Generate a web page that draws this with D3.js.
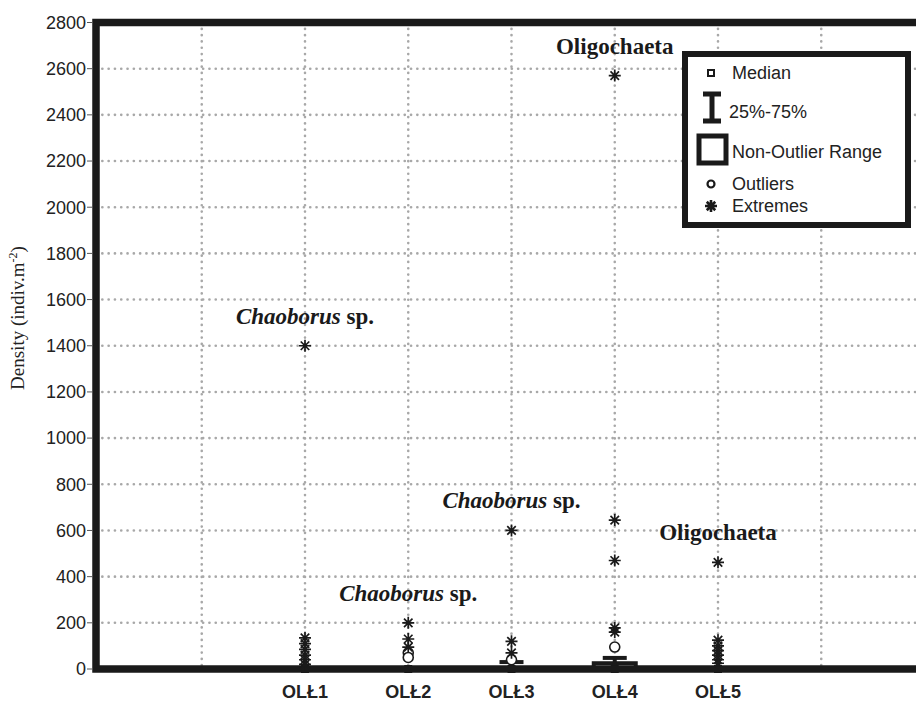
<!DOCTYPE html>
<html>
<head>
  <meta http-equiv="Content-Type" content="text/html;charset=utf-8" />
  <style type="text/css">
    body { margin: 0; background: #fff; }
    .tick { font-family: "Liberation Sans", Arial, sans-serif; font-size: 18px; fill: #222; }
    .cat { font-family: "Liberation Sans", Arial, sans-serif; font-size: 18px; font-weight: bold; fill: #222; }
    .note { font-family: "Liberation Serif", "Times New Roman", serif; font-size: 23px; font-weight: bold; fill: #1a1a1a; }
    .leg { font-family: "Liberation Sans", Arial, sans-serif; font-size: 18px; fill: #222; }
  </style>
</head>
<body>
  <div id="svgContainer"></div>
  <script src="https://d3js.org/d3.v7.min.js"></script>
  <script type="text/javascript">
    var w = 916;
    var h = 702;

    // data
    var categories = ["OLŁ1", "OLŁ2", "OLŁ3", "OLŁ4", "OLŁ5"];
    var medians = [0, 0, 0, 0, 0];
    var q25 = [0, 0, 0, 0, 0];
    var q75 = [0, 0, 30, 48, 0];
    var rangeMin = [0, 0, 0, 0, 0];
    var rangeMax = [0, 0, 0, 25, 0];
    var outliers = [[], [70, 50], [40], [95], []];
    var extremes = [
      [1400, 135, 110, 85, 60, 40, 20],
      [200, 130, 95],
      [600, 120, 70],
      [2570, 645, 470, 178, 160],
      [462, 125, 100, 80, 60, 40, 25]
    ];
    var yTicks = [0, 200, 400, 600, 800, 1000, 1200, 1400, 1600, 1800, 2000, 2200, 2400, 2600, 2800];

    // taxon notes over the highest extremes
    var noteCats = [0, 1, 2, 3, 4];
    var noteValues = [1400, 200, 600, 2570, 462];
    var noteItalic = ["Chaoborus", "Chaoborus", "Chaoborus", null, null];
    var noteRest = ["sp.", "sp.", "sp.", "Oligochaeta", "Oligochaeta"];

    var svg = d3.select("#svgContainer")
      .append("svg")
      .attr("width", w)
      .attr("height", h);

    var x = d3.scaleLinear().domain([0, 8]).range([98.5, 924.5]);
    var y = d3.scaleLinear().domain([0, 2800]).range([669, 22.5]);
    var cx = function (i) { return x(i + 2); };

    // dotted grid
    svg.append("g").selectAll("line")
      .data(yTicks.filter(function (d) { return d > 0 && d < 2800; }))
      .join("line")
      .attr("x1", 96).attr("x2", w)
      .attr("y1", function (d) { return y(d); })
      .attr("y2", function (d) { return y(d); })
      .attr("stroke", "#a8a8a8")
      .attr("stroke-width", 2.6)
      .attr("stroke-linecap", "round")
      .attr("stroke-dasharray", "0.1 6.2");

    svg.append("g").selectAll("line")
      .data([1, 2, 3, 4, 5, 6, 7])
      .join("line")
      .attr("x1", function (d) { return x(d); })
      .attr("x2", function (d) { return x(d); })
      .attr("y1", y(2800)).attr("y2", y(0))
      .attr("stroke", "#a8a8a8")
      .attr("stroke-width", 2.6)
      .attr("stroke-linecap", "round")
      .attr("stroke-dasharray", "0.1 6.2");

    // non-outlier range boxes
    svg.append("g").selectAll("rect")
      .data(categories)
      .join("rect")
      .attr("x", function (d, i) { return cx(i) - 21; })
      .attr("width", 42)
      .attr("y", function (d, i) { return y(rangeMax[i]); })
      .attr("height", function (d, i) { return y(rangeMin[i]) - y(rangeMax[i]); })
      .attr("fill", "none")
      .attr("stroke", "#1a1a1a")
      .attr("stroke-width", 4);

    // 25%-75% bars
    var bars = svg.append("g").selectAll("g")
      .data(categories)
      .join("g")
      .attr("stroke", "#1a1a1a")
      .attr("stroke-width", 4);
    bars.append("line")
      .attr("x1", function (d, i) { return cx(i); })
      .attr("x2", function (d, i) { return cx(i); })
      .attr("y1", function (d, i) { return y(q25[i]); })
      .attr("y2", function (d, i) { return y(q75[i]); });
    bars.append("line")
      .attr("x1", function (d, i) { return cx(i) - 12; })
      .attr("x2", function (d, i) { return cx(i) + 12; })
      .attr("y1", function (d, i) { return y(q75[i]); })
      .attr("y2", function (d, i) { return y(q75[i]); });

    // medians (sit on zero, mostly hidden by the axis)
    svg.append("g").selectAll("rect")
      .data(categories)
      .join("rect")
      .attr("x", function (d, i) { return cx(i) - 3; })
      .attr("y", function (d, i) { return y(medians[i]) - 3; })
      .attr("width", 6).attr("height", 6)
      .attr("fill", "#fff").attr("stroke", "#1a1a1a").attr("stroke-width", 2);

    // frame (right side lies outside the picture)
    svg.append("rect")
      .attr("x", 96)
      .attr("y", y(2800))
      .attr("width", x(8) - 96)
      .attr("height", y(0) - y(2800))
      .attr("fill", "none")
      .attr("stroke", "#1a1a1a")
      .attr("stroke-width", 7.5);

    // y axis ticks + labels
    var yt = svg.append("g").selectAll("g")
      .data(yTicks)
      .join("g")
      .attr("transform", function (d) { return "translate(0," + y(d) + ")"; });
    yt.append("line")
      .attr("x1", 87).attr("x2", 92)
      .attr("stroke", "#555").attr("stroke-width", 1);
    yt.append("text")
      .attr("class", "tick")
      .attr("x", 86)
      .attr("dy", "0.35em")
      .attr("text-anchor", "end")
      .text(function (d) { return d; });

    // x labels
    svg.append("g").selectAll("text")
      .data(categories)
      .join("text")
      .attr("class", "cat")
      .attr("x", function (d, i) { return cx(i); })
      .attr("y", 698)
      .attr("text-anchor", "middle")
      .text(function (d) { return d; });

    // y title
    var yl = svg.append("text")
      .attr("transform", "translate(24,318) rotate(-90)")
      .attr("text-anchor", "middle")
      .attr("font-family", "'Liberation Serif', 'Times New Roman', serif")
      .attr("font-size", 19)
      .attr("fill", "#222");
    yl.append("tspan").text("Density (indiv.m");
    yl.append("tspan").attr("font-size", 12).attr("dy", -7).text("-2");
    yl.append("tspan").attr("dy", 7).text(")");

    // marker shapes
    var starPath = function (r) {
      var a = r * 0.7071;
      return "M0," + (-r) + "V" + r +
        "M" + (-r) + ",0H" + r +
        "M" + (-a) + "," + (-a) + "L" + a + "," + a +
        "M" + (-a) + "," + a + "L" + a + "," + (-a);
    };

    // outliers
    var outPts = [];
    outliers.forEach(function (arr, i) { arr.forEach(function (v) { outPts.push([i, v]); }); });
    svg.append("g").selectAll("circle")
      .data(outPts)
      .join("circle")
      .attr("cx", function (d) { return cx(d[0]); })
      .attr("cy", function (d) { return y(d[1]); })
      .attr("r", 5)
      .attr("fill", "#fff")
      .attr("stroke", "#1a1a1a")
      .attr("stroke-width", 1.6);

    // extremes
    var extPts = [];
    extremes.forEach(function (arr, i) { arr.forEach(function (v) { extPts.push([i, v]); }); });
    svg.append("g").selectAll("path")
      .data(extPts)
      .join("path")
      .attr("transform", function (d) { return "translate(" + cx(d[0]) + "," + y(d[1]) + ")"; })
      .attr("d", starPath(6))
      .attr("fill", "none")
      .attr("stroke", "#1a1a1a")
      .attr("stroke-width", 1.7);

    // notes
    var notes = svg.append("g").selectAll("text")
      .data(noteCats)
      .join("text")
      .attr("class", "note")
      .attr("x", function (d) { return cx(d); })
      .attr("y", function (d, i) { return y(noteValues[i]) - 22; })
      .attr("text-anchor", "middle");
    notes.each(function (d, i) {
      var t = d3.select(this);
      if (noteItalic[i]) {
        t.append("tspan").attr("font-style", "italic").text(noteItalic[i] + " ");
      }
      t.append("tspan").text(noteRest[i]);
    });

    // legend
    var lg = svg.append("g");
    lg.append("rect")
      .attr("x", 685).attr("y", 54)
      .attr("width", 223).attr("height", 171)
      .attr("fill", "#fff")
      .attr("stroke", "#1a1a1a")
      .attr("stroke-width", 6);
    lg.append("rect")
      .attr("x", 708).attr("y", 70).attr("width", 6).attr("height", 6)
      .attr("fill", "#fff").attr("stroke", "#1a1a1a").attr("stroke-width", 2);
    lg.append("path")
      .attr("d", "M703,94H721M712,94V121M703,121H721")
      .attr("fill", "none").attr("stroke", "#1a1a1a").attr("stroke-width", 5);
    lg.append("rect")
      .attr("x", 699).attr("y", 136).attr("width", 27).attr("height", 27)
      .attr("fill", "none").attr("stroke", "#1a1a1a").attr("stroke-width", 5);
    lg.append("circle")
      .attr("cx", 711).attr("cy", 184).attr("r", 3.5)
      .attr("fill", "#fff").attr("stroke", "#1a1a1a").attr("stroke-width", 2.2);
    lg.append("path")
      .attr("transform", "translate(711,206)")
      .attr("d", starPath(6))
      .attr("fill", "none").attr("stroke", "#1a1a1a").attr("stroke-width", 2.6);

    var legLabels = ["Median", "25%-75%", "Non-Outlier Range", "Outliers", "Extremes"];
    var legX = [732, 729, 732, 732, 732];
    var legY = [73, 112, 152, 184, 206];
    lg.selectAll("text")
      .data(legLabels)
      .join("text")
      .attr("class", "leg")
      .attr("x", function (d, i) { return legX[i]; })
      .attr("y", function (d, i) { return legY[i]; })
      .attr("dy", "0.35em")
      .text(function (d) { return d; });
  </script>
</body>
</html>
